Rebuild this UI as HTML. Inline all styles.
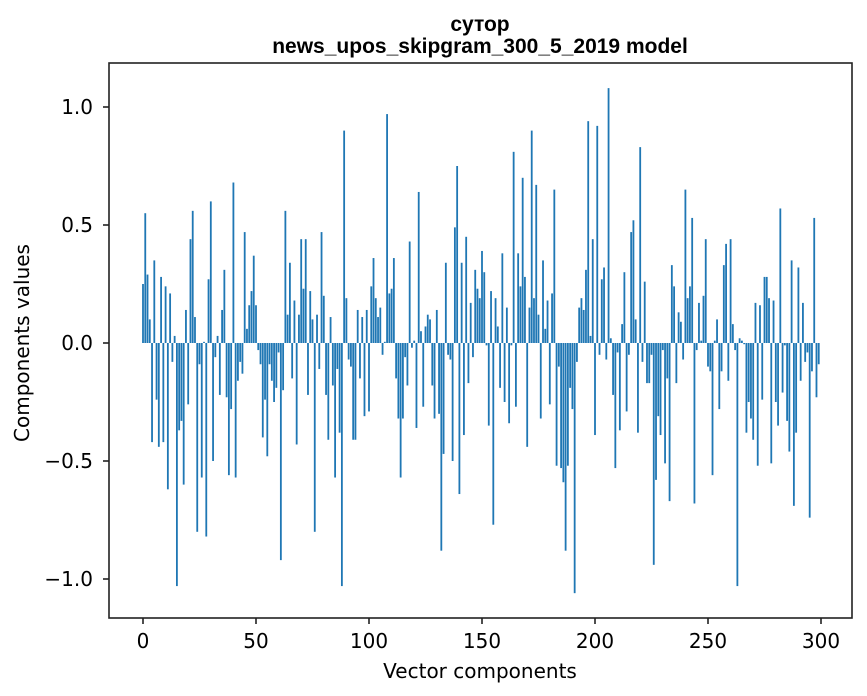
<!DOCTYPE html>
<html><head><meta charset="utf-8"><style>
html,body{margin:0;padding:0;background:#fff;}
svg{display:block;font-family:"DejaVu Sans","Liberation Sans",sans-serif;}
</style></head><body>
<svg id="chart" width="867" height="696" viewBox="0 0 867 696" xmlns="http://www.w3.org/2000/svg">
<rect width="867" height="696" fill="#fff"/>
<text x="480" y="31" text-anchor="middle" font-size="21" font-weight="bold" font-family="Liberation Sans, sans-serif">сутор</text>
<text x="480" y="53" text-anchor="middle" font-size="21" font-weight="bold" font-family="Liberation Sans, sans-serif">news_upos_skipgram_300_5_2019 model</text>
<g id="bars"></g>
<g id="xticks"></g>
<g id="yticks"></g>
<rect x="109" y="63" width="743" height="555" fill="none" stroke="#222" stroke-width="1.6"/>
<text x="480" y="678" text-anchor="middle" font-size="20">Vector components</text>
<text transform="translate(29,343) rotate(-90)" text-anchor="middle" font-size="20">Components values</text>
</svg>
<script>
const values = [0.25,0.55,0.29,0.10,-0.42,0.35,-0.24,-0.44,0.28,-0.42,
0.24,-0.62,0.21,-0.08,0.03,-1.03,-0.37,-0.33,-0.60,0.14,
-0.26,0.44,0.56,0.11,-0.80,-0.09,-0.57,0.005,-0.82,0.27,
0.60,-0.50,-0.06,0.03,-0.22,0.14,0.31,-0.23,-0.56,-0.28,
0.68,-0.57,-0.16,-0.08,-0.13,0.47,0.06,0.16,0.22,0.37,
0.16,-0.03,-0.09,-0.40,-0.24,-0.48,-0.09,-0.16,-0.25,-0.19,
-0.04,-0.92,-0.20,0.56,0.12,0.34,-0.15,0.18,-0.43,0.12,
0.44,0.23,0.44,-0.22,0.22,0.10,-0.80,0.12,-0.11,0.47,
0.20,-0.22,-0.41,0.11,-0.18,-0.57,-0.11,-0.38,-1.03,0.90,
0.19,-0.07,-0.10,-0.41,-0.41,0.14,-0.15,0.11,-0.31,0.14,
-0.29,0.24,0.36,0.19,0.11,0.15,-0.05,0.005,0.97,0.21,
0.23,0.36,-0.15,-0.32,-0.57,-0.32,-0.06,-0.18,0.43,-0.02,
0.01,-0.36,0.64,0.05,-0.27,0.07,0.12,0.10,-0.18,-0.32,
0.14,-0.30,-0.88,-0.47,0.34,-0.05,-0.07,-0.50,0.49,0.75,
-0.64,0.34,-0.39,0.45,-0.17,0.17,-0.06,0.31,0.23,0.19,
0.39,0.30,-0.01,-0.35,0.22,-0.77,0.19,0.07,-0.19,0.38,
-0.25,0.15,-0.34,-0.01,0.81,-0.27,0.38,0.24,0.70,0.28,
-0.44,0.15,0.90,0.19,0.67,0.12,-0.32,0.35,0.06,0.18,
-0.26,0.21,0.65,-0.52,-0.10,-0.53,-0.59,-0.88,-0.52,-0.19,
-0.28,-1.06,-0.08,0.15,0.19,0.14,0.31,0.94,0.03,0.44,
-0.39,0.92,-0.05,0.27,0.32,-0.07,1.08,0.02,-0.22,-0.53,
-0.04,-0.37,0.08,0.30,-0.29,-0.05,0.47,0.52,0.10,-0.38,
0.83,-0.08,0.26,-0.17,-0.17,-0.05,-0.94,-0.58,-0.31,-0.39,
-0.03,-0.51,-0.15,-0.67,0.33,0.24,-0.17,0.13,0.09,-0.07,
0.65,0.19,0.24,0.53,-0.68,-0.03,0.17,0.01,0.20,0.44,
-0.10,-0.12,-0.56,0.01,0.10,-0.28,-0.12,0.33,0.42,-0.16,
0.44,0.08,-0.03,-1.03,0.02,0.01,-0.005,-0.38,-0.25,-0.32,
-0.41,0.17,-0.52,0.16,-0.24,0.28,0.28,0.19,-0.51,0.18,
-0.25,-0.35,0.57,-0.21,-0.01,-0.33,-0.46,0.35,-0.69,-0.38,
0.32,-0.16,0.17,-0.08,-0.04,-0.74,-0.12,0.53,-0.23,-0.09];
const xTickValues = [0,50,100,150,200,250,300];
const xTickLabels = ["0","50","100","150","200","250","300"];
const yTickValues = [-1.0,-0.5,0.0,0.5,1.0];
const yTickLabels = ["\u22121.0","\u22120.5","0.0","0.5","1.0"];

const NS = "http://www.w3.org/2000/svg";
const X0 = 143, XS = 2.26, Y0 = 343, YS = 236;
function xScale(v){ return X0 + v * XS; }
function yScale(v){ return Y0 - v * YS; }

const barsG = document.getElementById('bars');
values.forEach((v, i) => {
  const r = document.createElementNS(NS, 'rect');
  const bw = 0.8 * XS;
  const y1 = yScale(Math.max(v, 0)), y2 = yScale(Math.min(v, 0));
  r.setAttribute('x', xScale(i) - bw / 2);
  r.setAttribute('y', y1);
  r.setAttribute('width', bw);
  r.setAttribute('height', Math.max(y2 - y1, 0.01));
  r.setAttribute('fill', '#1f77b4');
  
  
  barsG.appendChild(r);
});

const xg = document.getElementById('xticks');
xTickValues.forEach((t, k) => {
  const x = xScale(t);
  const l = document.createElementNS(NS, 'line');
  l.setAttribute('x1', x); l.setAttribute('x2', x);
  l.setAttribute('y1', 618); l.setAttribute('y2', 624);
  l.setAttribute('stroke', '#222');
  l.setAttribute('stroke-width', '1.6');
  
  
  xg.appendChild(l);
  const tx = document.createElementNS(NS, 'text');
  tx.setAttribute('x', x); tx.setAttribute('y', 648);
  tx.setAttribute('text-anchor', 'middle');
  tx.setAttribute('font-size', '20');
  tx.textContent = xTickLabels[k];
  
  
  xg.appendChild(tx);
});

const yg = document.getElementById('yticks');
yTickValues.forEach((t, k) => {
  const y = yScale(t);
  const l = document.createElementNS(NS, 'line');
  l.setAttribute('x1', 103); l.setAttribute('x2', 109);
  l.setAttribute('y1', y); l.setAttribute('y2', y);
  l.setAttribute('stroke', '#222');
  l.setAttribute('stroke-width', '1.6');
  
  
  yg.appendChild(l);
  const tx = document.createElementNS(NS, 'text');
  tx.setAttribute('x', 93); tx.setAttribute('y', y + 7);
  tx.setAttribute('text-anchor', 'end');
  tx.setAttribute('font-size', '20');
  tx.textContent = yTickLabels[k];
  
  
  yg.appendChild(tx);
});
</script>
</body></html>
